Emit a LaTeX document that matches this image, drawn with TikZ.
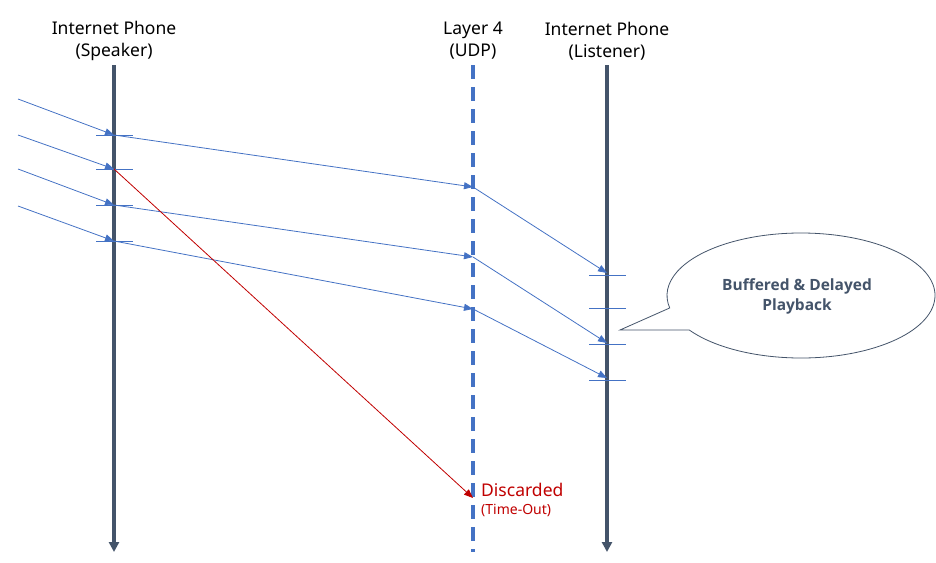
\documentclass[tikz,border=0pt]{standalone}
\usepackage{fontspec}
\setmainfont{Noto Sans}
\newfontfamily\cbfont{Open Sans}
\usetikzlibrary{arrows.meta,calc}
\definecolor{slate}{HTML}{44546A}
\definecolor{ablue}{HTML}{4472C4}
\definecolor{dred}{HTML}{C00000}
\begin{document}
\begin{tikzpicture}[x=1pt,y=-1pt,
  life/.style={draw=slate,line width=3.5pt,-{Triangle[length=10pt,width=10pt]}},
  udp/.style={draw=ablue,line width=3.5pt,dash pattern=on 14pt off 8pt},
  msg/.style={draw=ablue,line width=0.8pt,-{Triangle[length=9pt,width=7pt]}},
  drop/.style={draw=dred,line width=0.8pt,-{Triangle[length=9pt,width=7pt]}},
  tick/.style={draw=ablue,line width=0.9pt},
  lbl/.style={align=center,font=\fontsize{17.5}{22}\selectfont,inner sep=0pt}]
\useasboundingbox (0,0) rectangle (936,562);
% headers
\node[lbl] (hs) at (114,41) {Internet Phone\\(Speaker)};
\node[lbl] (hu) at (473,41) {Layer 4\\(UDP)};
\node[lbl] (hl) at (607,41) {Internet Phone\\(Listener)};
% lifelines
\coordinate (s0) at (114,65); \coordinate (s1) at (114,552);
\coordinate (u0) at (473,65); \coordinate (u1) at (473,552);
\coordinate (l0) at (607,65); \coordinate (l1) at (607,552);
\draw[udp] (u0) -- (u1);
\draw[life] (s0) -- (s1);
\draw[life] (l0) -- (l1);
% speaker points
\coordinate (sa) at (114,135); \coordinate (sb) at (114,169);
\coordinate (sc) at (114,205); \coordinate (sd) at (114,241);
% sources
\coordinate (ia) at (18,99); \coordinate (ib) at (18,135);
\coordinate (ic) at (18,169); \coordinate (id) at (18,206);
% udp points
\coordinate (ua) at (473,187); \coordinate (uc) at (473,257);
\coordinate (ud) at (473,309); \coordinate (ub) at (473,498);
% listener points
\coordinate (la) at (607,273); \coordinate (lc) at (607,343);
\coordinate (ld) at (607,378);
% ticks
\foreach \y in {135,169,205,241} \draw[tick] (96,\y) -- (133,\y);
\foreach \y in {275,308,344,380} \draw[tick] (589,\y) -- (626,\y);
% messages
\draw[msg] (ia) -- (sa);
\draw[msg] (ib) -- (sb);
\draw[msg] (ic) -- (sc);
\draw[msg] (id) -- (sd);
\draw[msg] (sa) -- (ua);
\draw[msg] (sc) -- (uc);
\draw[msg] (sd) -- (ud);
\draw[msg] (ua) -- (la);
\draw[msg] (uc) -- (lc);
\draw[msg] (ud) -- (ld);
\draw[drop] (sb) -- (ub);
% discarded
\node[anchor=west,text=dred,font=\fontsize{17.5}{20}\selectfont,inner sep=0pt] (dc) at (481,490) {Discarded};
\node[anchor=west,text=dred,font=\fontsize{14}{16}\selectfont,inner sep=0pt] (to) at (481,510) {(Time-Out)};
% callout
\coordinate (tp) at (620,330);
\coordinate (ec) at (801,295.5);
\draw[slate,line width=0.8pt,fill=white]
  ($(ec)+({134*cos(168.5)},{62.5*sin(168.5)})$) -- (tp) -- ($(ec)+({134*cos(146.5)},{62.5*sin(146.5)})$)
  arc[start angle=146.5, delta angle=-338, x radius=134, y radius=62.5] -- cycle;
\node[font=\cbfont\bfseries\fontsize{15.5}{20}\selectfont,text=slate,align=center] (cb) at (797,296) {Buffered \& Delayed\\Playback};
\end{tikzpicture}
\end{document}
